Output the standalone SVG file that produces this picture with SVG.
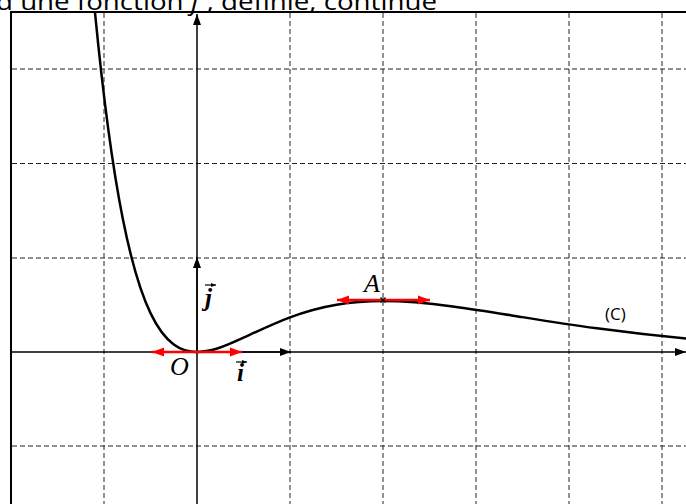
<svg xmlns="http://www.w3.org/2000/svg" width="686" height="504" viewBox="0 0 686 504">
<style>
.grid{stroke:#222;stroke-width:1;stroke-dasharray:5 3;fill:none}
.axis{stroke:#000;stroke-width:1.5;fill:none}
.tan{stroke:#ff0000;stroke-width:2.5;fill:none}
.vec{stroke:#000;stroke-width:1.5;fill:none}
.lbl{font-family:"Liberation Serif","DejaVu Serif",serif;font-style:italic;font-size:26px;fill:#000}
.vlbl{font-family:"Liberation Serif","DejaVu Serif",serif;font-style:italic;font-weight:bold;font-size:25px;fill:#000}
.sans{font-family:"Open Sans","Noto Sans",sans-serif;fill:#000}
</style>
<defs>
<marker id="ah" markerUnits="userSpaceOnUse" markerWidth="12" markerHeight="10" refX="11" refY="4" orient="auto" viewBox="0 0 12 8">
<path d="M0,0 L11,4 L0,8 Z" fill="#000"/>
</marker>
<marker id="rh" markerUnits="userSpaceOnUse" markerWidth="13" markerHeight="10" refX="12" refY="4.5" orient="auto-start-reverse" viewBox="0 0 13 9">
<path d="M0,0 L12,4.5 L0,9 Z" fill="#ff0000"/>
</marker>
<marker id="sh" markerUnits="userSpaceOnUse" markerWidth="6" markerHeight="5" refX="5" refY="2" orient="auto" viewBox="0 0 6 4">
<path d="M0,0 L5,2 L0,4 Z" fill="#000"/>
</marker>
</defs>
<rect width="686" height="504" fill="#fff"/>
<text class="sans" x="-4" y="10" font-size="23" textLength="441" lengthAdjust="spacingAndGlyphs">d une fonction <tspan font-style="italic">f</tspan> , définie, continue</text>
<g id="frame"><rect x="11" y="12" width="700" height="520" fill="none" stroke="#000" stroke-width="2"/></g>
<g id="grid">
<path class="grid" d="M104,13V504M290,13V504M383,13V504M476,13V504M569,13V504M662,13V504"/>
<path class="grid" d="M12,69H686M12,163.5H686M12,258H686M12,446H686"/>
</g>
<g id="axes">
<line class="axis" x1="12" y1="352" x2="686" y2="352" marker-end="url(#ah)"/>
<line class="axis" x1="197" y1="504" x2="197" y2="14" marker-end="url(#ah)"/>
</g>
<g id="curve">
<path d="M94.98,12.32 C104.19,107.26 113.39,171.25 122.6,217.76 C131.9,264.74 141.2,293.72 150.5,313.15 C158.25,329.34 166,338.77 173.75,344.44 C181.5,350.11 189.25,352 197,352 C212.5,352 228,344.86 243.5,337.71 C259,330.56 274.5,323.11 290,317.33 C305.5,311.55 321,307.32 336.5,304.69 C352,302.06 367.5,300.98 383,300.98 C406.25,300.98 429.5,303.32 452.75,306.43 C476,309.54 499.25,313.41 522.5,317.14 C547.3,321.12 572.1,324.98 596.9,328.35 C627.9,332.57 658.9,336.05 689.9,338.79" fill="none" stroke="#000" stroke-width="2.5"/>
</g>
<g id="connectors">
<line class="vec" x1="197" y1="352" x2="291" y2="352" marker-end="url(#ah)"/>
<line class="vec" x1="197" y1="352" x2="197" y2="257" marker-end="url(#ah)"/>
<line class="tan" x1="152" y1="352" x2="242" y2="352" marker-start="url(#rh)" marker-end="url(#rh)"/>
<line class="tan" x1="337" y1="300" x2="430" y2="300" marker-start="url(#rh)" marker-end="url(#rh)"/>
</g>
<g id="point-O"><text class="lbl" x="170" y="375">O</text></g>
<g id="point-A">
<text class="lbl" x="364" y="292">A</text>
<path d="M380.5,297.5L385.5,302.5M385.5,297.5L380.5,302.5" stroke="#000" stroke-width="1.3"/>
</g>
<g id="vector-i">
<text class="vlbl" x="237" y="381">i</text>
<line x1="236" y1="362" x2="247" y2="362" stroke="#000" stroke-width="1.2" marker-end="url(#sh)"/>
</g>
<g id="vector-j">
<text class="vlbl" x="205" y="306">j</text>
<line x1="205" y1="285" x2="216" y2="285" stroke="#000" stroke-width="1.2" marker-end="url(#sh)"/>
</g>
<g id="label-C"><text class="sans" x="605" y="320" font-size="17">(C)</text></g>
</svg>
